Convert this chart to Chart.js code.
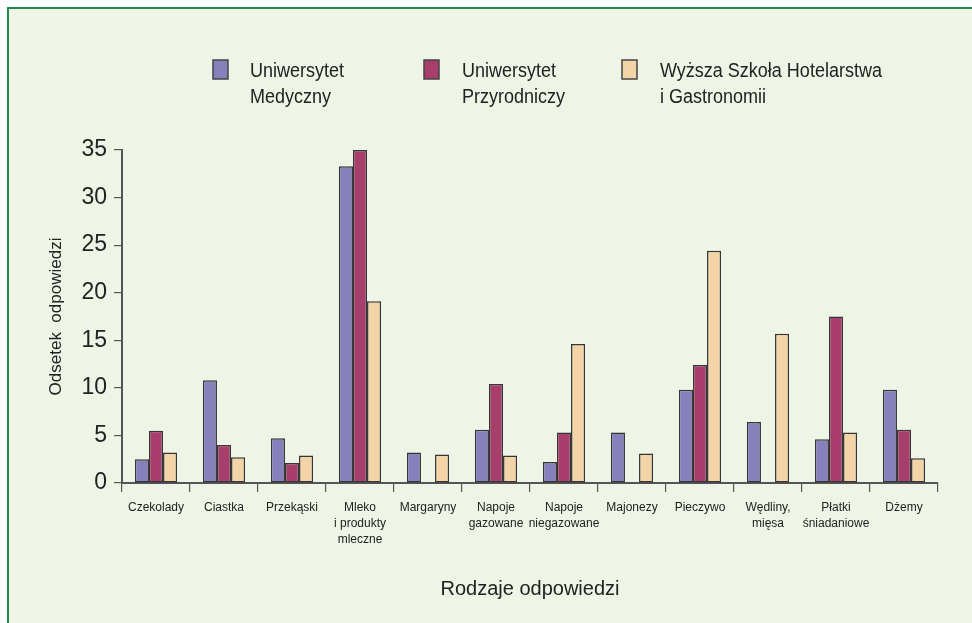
<!DOCTYPE html>
<html>
<head>
<meta charset="utf-8">
<script src="https://cdn.jsdelivr.net/npm/chart.js@4.4.1/dist/chart.umd.min.js"></script>
<style>
  html, body { margin: 0; padding: 0; background: #ffffff; }
  #frame {
    position: absolute; left: 7px; top: 7px;
    width: 965px; height: 616px;
    background: #eef4e6;
    border-top: 2px solid #1d8a4e;
    border-left: 2px solid #1d8a4e;
    box-sizing: border-box;
  }
  #wrap { position: absolute; left: 0; top: 0; width: 972px; height: 623px; }
</style>
</head>
<body>
<div id="frame"></div>
<div id="wrap"><canvas id="chart" width="972" height="623"></canvas></div>
<script>
// Food categories on the x axis
const categories = [
  'Czekolady', 'Ciastka', 'Przekąski', ['Mleko', 'i produkty', 'mleczne'],
  'Margaryny', ['Napoje', 'gazowane'], ['Napoje', 'niegazowane'], 'Majonezy',
  'Pieczywo', ['Wędliny,', 'mięsa'], ['Płatki', 'śniadaniowe'], 'Dżemy'
];

// Series names (legend, two lines each)
const seriesNames = [
  ['Uniwersytet', 'Medyczny'],
  ['Uniwersytet', 'Przyrodniczy'],
  ['Wyższa Szkoła Hotelarstwa', 'i Gastronomii']
];

// Percent of answers per school (null = no answers)
const medyczny     = [2.5, 10.8, 4.7, 33.3, 3.2, 5.6, 2.2, 5.3, 9.8, 6.4, 4.6, 9.8];
const przyrodniczy = [5.5, 4.0, 2.1, 35.0, null, 10.4, 5.3, null, 12.4, null, 17.5, 5.6];
const hotelarstwo  = [3.2, 2.7, 2.9, 19.1, 3.0, 2.9, 14.6, 3.1, 24.4, 15.7, 5.3, 2.6];

// Y axis range and step
const yMin = 0, yMax = 35, yStep = 5;

const colors = ['#8681bd', '#a93d6b', '#f2d4a6'];
const SANS = '"Liberation Sans", Arial, sans-serif';

const seriesValues = [medyczny, przyrodniczy, hotelarstwo];

// Two-line legend drawn on top of the chart, in a slightly condensed face
const legendPlugin = {
  id: 'twoLineLegend',
  afterDraw(chart) {
    const ctx = chart.ctx;
    const boxX = [213, 424, 622];
    const textX = [250, 462, 660];
    const squeeze = 0.9;
    ctx.save();
    chart.data.datasets.forEach((ds, i) => {
      ctx.fillStyle = ds.backgroundColor;
      ctx.fillRect(boxX[i], 60, 15, 19);
      ctx.lineWidth = 1.5;
      ctx.strokeStyle = '#444444';
      ctx.strokeRect(boxX[i], 60, 15, 19);
      ctx.fillStyle = '#222222';
      ctx.font = '20px ' + SANS;
      ctx.textBaseline = 'middle';
      ctx.textAlign = 'left';
      seriesNames[i].forEach((line, k) => {
        ctx.save();
        ctx.translate(textX[i], 71 + k * 26);
        ctx.scale(squeeze, 1);
        ctx.fillText(line, 0, 0);
        ctx.restore();
      });
    });
    ctx.restore();
  }
};

new Chart(document.getElementById('chart'), {
  type: 'bar',
  data: {
    labels: categories,
    datasets: seriesValues.map((vals, i) => ({
      label: seriesNames[i].join(' '),
      data: vals,
      backgroundColor: colors[i],
      borderColor: '#363636',
      borderWidth: 1.5,
      borderSkipped: false,
      barPercentage: 1.0,
      categoryPercentage: 0.62
    }))
  },
  options: {
    responsive: false,
    animation: false,
    devicePixelRatio: 1,
    layout: { padding: { left: 40, top: 150, right: 34, bottom: 10 } },
    plugins: {
      legend: { display: false },
      tooltip: { enabled: false }
    },
    scales: {
      x: {
        grid: {
          offset: true,
          drawOnChartArea: false,
          tickLength: 9,
          color: '#555555',
          lineWidth: 1.2
        },
        border: { color: '#555555', width: 2 },
        ticks: {
          color: '#222222',
          font: { family: SANS, size: 12, lineHeight: 1.33 },
          padding: 8,
          maxRotation: 0,
          autoSkip: false
        },
        title: {
          display: true,
          text: 'Rodzaje odpowiedzi',
          color: '#222222',
          font: { family: SANS, size: 20, lineHeight: 1.2 },
          padding: { top: 0, bottom: 12 }
        },
        afterFit(scale) { scale.height = 130; }
      },
      y: {
        min: yMin,
        max: yMax,
        grid: {
          drawOnChartArea: false,
          tickLength: 8,
          color: '#555555',
          lineWidth: 1.2
        },
        border: { color: '#555555', width: 2 },
        ticks: {
          stepSize: yStep,
          color: '#222222',
          font: { family: SANS, size: 23 },
          padding: 7
        },
        title: {
          display: true,
          text: 'Odsetek  odpowiedzi',
          color: '#222222',
          font: { family: SANS, size: 17, lineHeight: 1.2 },
          padding: { top: 6, bottom: 0 }
        },
        afterFit(scale) { scale.width = 82; }
      }
    }
  },
  plugins: [legendPlugin]
});
</script>
</body>
</html>
